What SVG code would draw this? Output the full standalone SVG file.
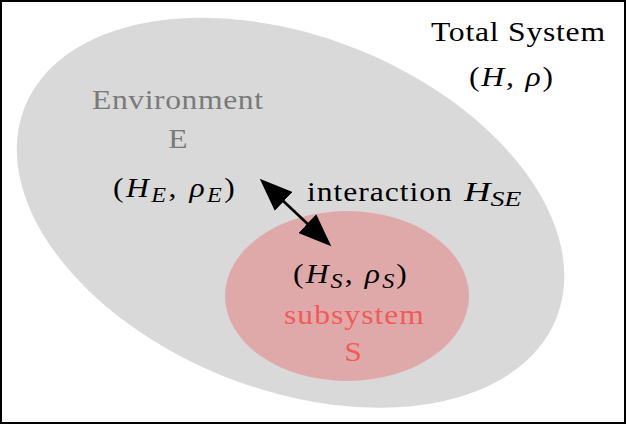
<svg xmlns="http://www.w3.org/2000/svg" width="626" height="424" viewBox="0 0 626 424">
<style>
.t{font-family:"Liberation Serif","Times New Roman",serif;font-size:27.5px}
.c{text-anchor:middle}
.m{font-style:italic}
.sub{font-size:21px;font-style:italic}
.black{fill:#000}
.gray{fill:#7a7a7a}
.red{fill:#f25a5a}
</style>
<defs>
<marker id="ah" markerUnits="userSpaceOnUse" markerWidth="34" markerHeight="26" refX="1" refY="13" orient="auto-start-reverse" viewBox="0 0 34 26">
<path d="M0,0 L33,13 L0,26 z" fill="#000"/>
</marker>
</defs>
<rect x="1" y="1" width="624" height="422" fill="#fff" stroke="#000" stroke-width="2"/>
<g id="environment">
<ellipse cx="290.5" cy="212.7" rx="286" ry="176.6" transform="rotate(21.6 290.5 212.7)" fill="#d9d9d9"/>
</g>
<g id="subsystem">
<ellipse cx="347" cy="296" rx="122" ry="85" fill="#e0a9a9"/>
</g>
<g id="connectors">
<line x1="283" y1="200.7" x2="308" y2="224.3" stroke="#000" stroke-width="2.6" marker-start="url(#ah)" marker-end="url(#ah)"/>
</g>
<g id="labels">
<g transform="translate(431 41) scale(1.15 1)"><text class="t black" x="0" y="0" textLength="151.3" lengthAdjust="spacing">Total System</text></g>
<g transform="translate(469 86) scale(1.15 1)"><text class="t black" x="0" y="0" textLength="73" lengthAdjust="spacing">(<tspan class="m">H</tspan>, <tspan class="m">ρ</tspan>)</text></g>
<g transform="translate(92 109) scale(1.15 1)"><text class="t gray" x="0" y="0" textLength="148.7" lengthAdjust="spacing">Environment</text></g>
<g transform="translate(178 148) scale(1.15 1)"><text class="t c gray" x="0" y="0">E</text></g>
<g transform="translate(113 197) scale(1.15 1)"><text class="t black" x="0" y="0" textLength="106" lengthAdjust="spacing">(<tspan class="m">H</tspan><tspan class="sub" dy="5">E</tspan><tspan dy="-5">, </tspan><tspan class="m">ρ</tspan><tspan class="sub" dy="5">E</tspan><tspan dy="-5">)</tspan></text></g>
<g transform="translate(307 201) scale(1.15 1)"><text class="t black" x="0" y="0" textLength="126" lengthAdjust="spacing">interaction</text></g>
<g transform="translate(464 201) scale(1.33 1)"><text class="t black" x="0" y="0"><tspan class="m">H</tspan><tspan class="sub" dy="5">SE</tspan></text></g>
<g transform="translate(293 283) scale(1.15 1)"><text class="t black" x="0" y="0" textLength="99" lengthAdjust="spacing">(<tspan class="m">H</tspan><tspan class="sub" dy="5">S</tspan><tspan dy="-5">, </tspan><tspan class="m">ρ</tspan><tspan class="sub" dy="5">S</tspan><tspan dy="-5">)</tspan></text></g>
<g transform="translate(284 324) scale(1.15 1)"><text class="t red" x="0" y="0" textLength="121.7" lengthAdjust="spacing">subsystem</text></g>
<g transform="translate(353 361) scale(1.15 1)"><text class="t c red" x="0" y="0">S</text></g>
</g>
</svg>
